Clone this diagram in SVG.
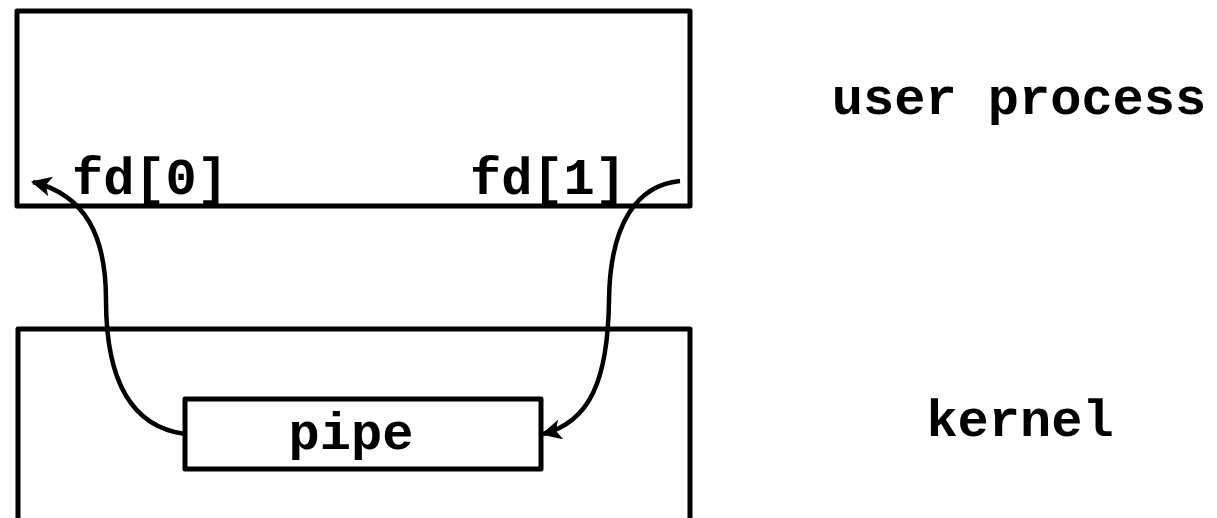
<svg xmlns="http://www.w3.org/2000/svg" width="1217" height="518" viewBox="0 0 1217 518">
  <style>
    .box { fill: none; stroke: #000; stroke-width: 5; stroke-linejoin: round; }
    .wire { fill: none; stroke: #000; stroke-width: 4.5; }
    .lbl { font-family: "Liberation Mono", "Courier New", monospace; font-weight: bold; font-size: 52px; fill: #000; }
  </style>
  <defs>
    <marker id="arrow" viewBox="0 0 10 10" refX="9" refY="5" markerWidth="4.5" markerHeight="4.5" orient="auto" markerUnits="strokeWidth">
      <path d="M0,0 L10,5 L0,10 L2.5,5 Z" fill="#000"/>
    </marker>
  </defs>

  <rect width="1217" height="518" fill="#fff"/>

  <g id="user-process">
    <rect class="box" x="17" y="11" width="673" height="195"/>
    <text class="lbl" x="1019" y="114" text-anchor="middle">user process</text>
  </g>

  <g id="kernel">
    <path class="box" d="M18,520 V329 H690 V520"/>
    <text class="lbl" x="1020" y="436" text-anchor="middle">kernel</text>
  </g>

  <g id="fd0">
    <text class="lbl" x="150" y="194" text-anchor="middle">fd[0]</text>
  </g>

  <g id="fd1">
    <text class="lbl" x="548" y="194" text-anchor="middle">fd[1]</text>
  </g>

  <g id="pipe">
    <rect class="box" x="185" y="399" width="356" height="70"/>
    <text class="lbl" x="351" y="449" text-anchor="middle">pipe</text>
  </g>

  <g id="connectors">
    <path class="wire" marker-end="url(#arrow)" d="M185,434 C125,426 106,370 106,300 C106,235 85,195 33,182"/>
    <path class="wire" marker-end="url(#arrow)" d="M680,181 C638,185 610,222 609,300 C608,380 590,422 543,434"/>
  </g>
</svg>
